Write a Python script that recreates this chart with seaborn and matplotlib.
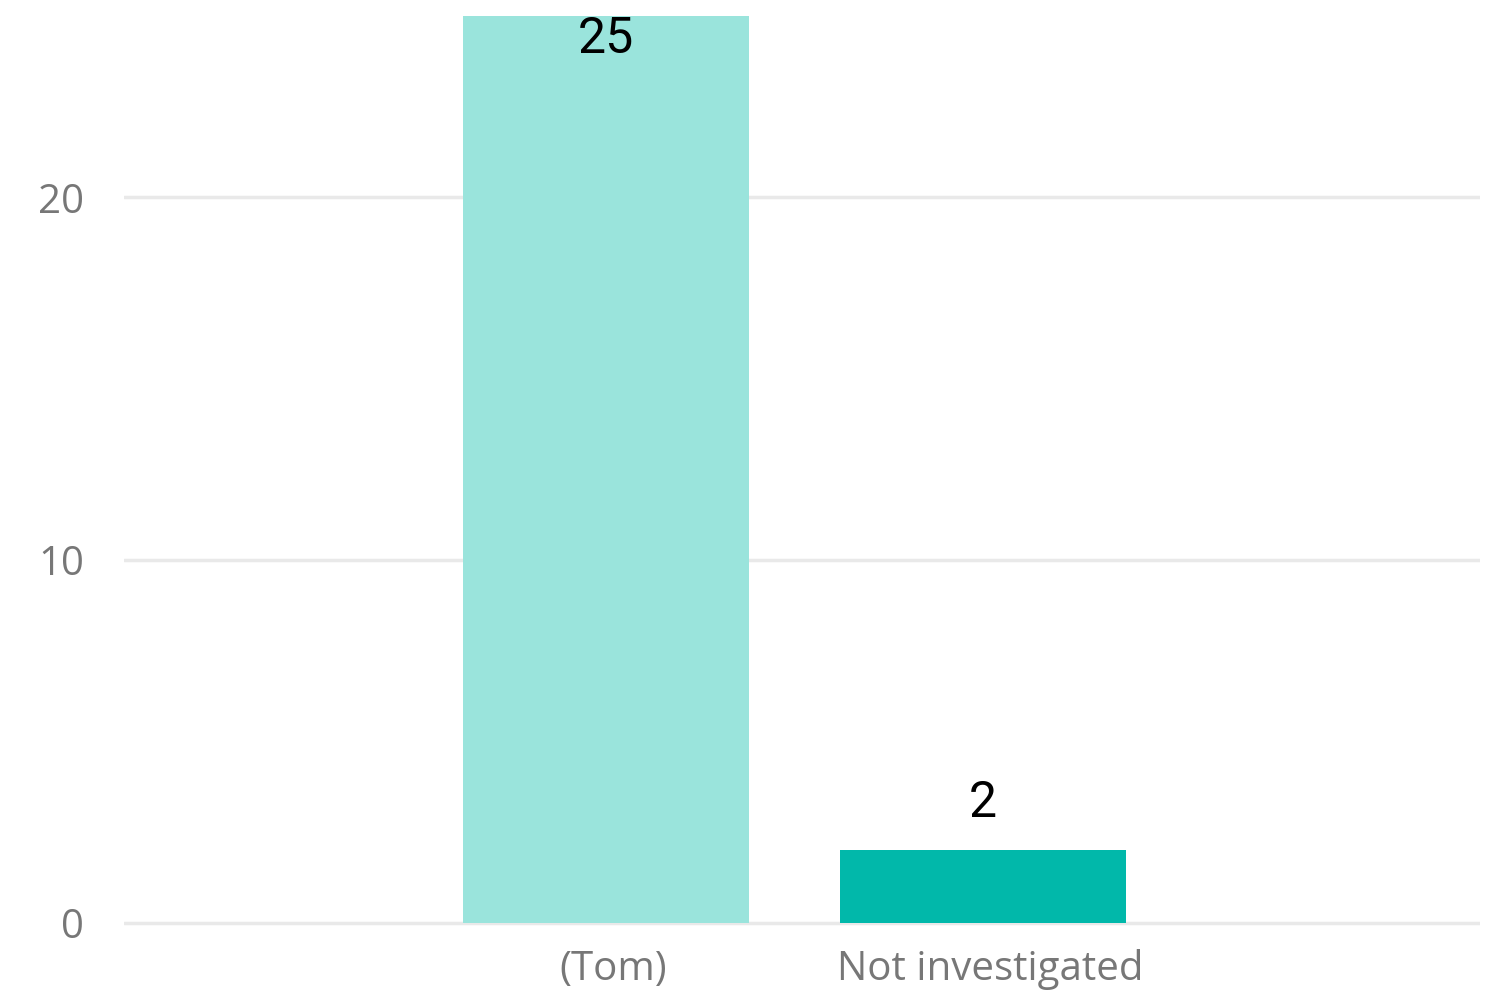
import matplotlib
matplotlib.use("Agg")
import matplotlib.pyplot as plt
import matplotlib.transforms as mtransforms
import seaborn as sns
import pandas as pd

categories = ["(Tom)", "Not investigated"]
values = [25, 2]
bar_colors = ["#9AE4DC", "#01B8AA"]
yticks = [0, 10, 20]

sns.set_theme(style="white")
plt.rcParams['font.family'] = ['Open Sans', 'DejaVu Sans']

df = pd.DataFrame({"cat": categories, "val": values})

fig = plt.figure(figsize=(14.85, 9.93), dpi=100)
ymin = -0.07
ax = fig.add_axes([124/1485, 1 - 925.5/993, (1480-124)/1485, (925.5-16)/993])

sns.barplot(data=df, x="cat", y="val", hue="cat", palette=bar_colors,
            width=0.76, legend=False, ax=ax, saturation=1, zorder=3, linewidth=0)

ax.set_xlim(-1.278, 2.318)
ax.set_ylim(ymin, 25)
ax.set_yticks(yticks)
ax.yaxis.grid(True, color="#E9E9E9", linewidth=2.5, zorder=0)
ax.set_axisbelow(True)
for s in ax.spines.values():
    s.set_visible(False)
ax.set_xlabel("")
ax.set_ylabel("")
ax.tick_params(axis="both", length=0, labelsize=29, colors="#777777")
ax.tick_params(axis="x", pad=17)
ax.tick_params(axis="y", pad=29)
for lbl in ax.get_yticklabels():
    lbl.set_horizontalalignment("right")
offset = mtransforms.ScaledTranslation(7/100, 0, fig.dpi_scale_trans)
for lbl in ax.get_xticklabels():
    lbl.set_transform(lbl.get_transform() + offset)

for i, v in enumerate(values):
    if v > 20:
        ax.annotate(str(v), (i, v), xytext=(0, 1), textcoords="offset points",
                    ha="center", va="top", fontsize=36, family=["Roboto", "DejaVu Sans"],
                    color="black", zorder=5)
    else:
        ax.annotate(str(v), (i, v), xytext=(0, 17), textcoords="offset points",
                    ha="center", va="bottom", fontsize=36, family=["Roboto", "DejaVu Sans"],
                    color="black", zorder=5)

fig.savefig("out.png", dpi=100)
